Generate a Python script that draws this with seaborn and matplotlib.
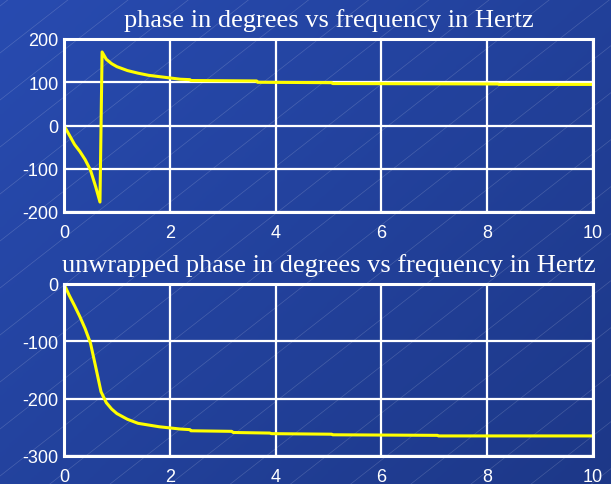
import numpy as np
import pandas as pd
import matplotlib
matplotlib.use("Agg")
import matplotlib.pyplot as plt
import seaborn as sns
from matplotlib.colors import LinearSegmentedColormap

# Phase response samples (frequency in Hz, phase in degrees)
freq_wrapped = [0, 0.1, 0.2, 0.3, 0.4, 0.5, 0.6, 0.68, 0.72, 0.8, 0.9, 1.0,
                1.2, 1.4, 1.6, 1.8, 2.0, 2.2, 2.38, 2.4, 3.64, 3.66, 5.06,
                5.08, 8.2, 8.22, 10]
phase_wrapped = [0, -22, -44, -60, -79, -103, -142, -177, 170, 153, 143, 136,
                 127, 121, 116, 113, 110, 107, 106, 104, 103, 100, 99,
                 97, 96, 95, 95]

freq_unwrapped = [0, 0.1, 0.2, 0.3, 0.4, 0.5, 0.6, 0.7, 0.8, 0.9, 1.0, 1.1,
                  1.2, 1.4, 1.6, 1.8, 2.0, 2.2, 2.38, 2.4, 3.17, 3.2, 3.89,
                  3.92, 5.06, 5.08, 7.06, 7.08, 10]
phase_unwrapped = [0, -20, -38, -57, -78, -103, -145, -188, -207, -218, -226,
                   -231, -236, -243, -246, -249, -251, -253, -254, -256, -257,
                   -259, -260, -261, -262, -263, -264, -265, -265]

x_ticks = [0, 2, 4, 6, 8, 10]
top_yticks = [-200, -100, 0, 100, 200]
bottom_yticks = [-300, -200, -100, 0]

titles = ["phase in degrees vs frequency in Hertz",
          "unwrapped phase in degrees vs frequency in Hertz"]

sns.set_style("white")
plt.rcParams["axes.unicode_minus"] = False
plt.rcParams["font.family"] = ["Liberation Sans", "DejaVu Sans"]

W, H = 611, 485
fig = plt.figure(figsize=(W / 100, H / 100), dpi=100)

# Slide-style blue gradient backdrop with faint diagonal hatching
bg = fig.add_axes([0, 0, 1, 1], zorder=-10)
yy, xx = np.mgrid[0:1:200j, 0:1:200j]
grad = 0.55 * xx + 0.45 * yy
cmap = LinearSegmentedColormap.from_list("slide", ["#284bb0", "#1d3888"])
bg.imshow(grad, cmap=cmap, extent=[0, W, H, 0], aspect="auto",
          interpolation="bilinear")
slope = np.tan(np.radians(38))
for c in np.arange(-40, H + W * slope + 60, 47):
    bg.plot([0, W], [c, c - W * slope], color="white", lw=0.5, alpha=0.17)
bg.set_xlim(0, W)
bg.set_ylim(H, 0)
bg.axis("off")

def style_axes(ax, yticks, ylim, title):
    ax.set_facecolor("none")
    ax.set_xlim(0, 10)
    ax.set_ylim(*ylim)
    ax.set_xticks(x_ticks)
    ax.set_yticks(yticks)
    ax.set_xticklabels([str(t) for t in x_ticks])
    ax.set_yticklabels([str(t) for t in yticks])
    ax.grid(True, color="white", lw=1.6)
    ax.set_axisbelow(True)
    for s in ax.spines.values():
        s.set_visible(True)
        s.set_color("white")
        s.set_linewidth(2.2)
    ax.tick_params(axis="both", colors="white", labelcolor="white",
                   direction="in", length=4, width=1.5, labelsize=13)
    ax.tick_params(axis="x", pad=9)
    ax.tick_params(axis="y", pad=4)
    ax.set_xlabel("")
    ax.set_ylabel("")
    ax.text(0.5, 1.075, title, transform=ax.transAxes, ha="center",
            va="baseline", color="white", fontsize=19,
            family=["Liberation Serif", "DejaVu Serif"])

ax1 = fig.add_axes([64 / W, 1 - 213 / H, 529 / W, 173 / H])
df1 = pd.DataFrame({"freq": freq_wrapped, "phase": phase_wrapped})
sns.lineplot(data=df1, x="freq", y="phase", ax=ax1, color="#ffff00",
             lw=2.2, sort=False)
style_axes(ax1, top_yticks, (-200, 200), titles[0])

ax2 = fig.add_axes([64 / W, 1 - 457 / H, 529 / W, 172 / H])
df2 = pd.DataFrame({"freq": freq_unwrapped, "phase": phase_unwrapped})
sns.lineplot(data=df2, x="freq", y="phase", ax=ax2, color="#ffff00",
             lw=2.2, sort=False)
style_axes(ax2, bottom_yticks, (-300, 0), titles[1])

fig.savefig("out.png", dpi=100)
